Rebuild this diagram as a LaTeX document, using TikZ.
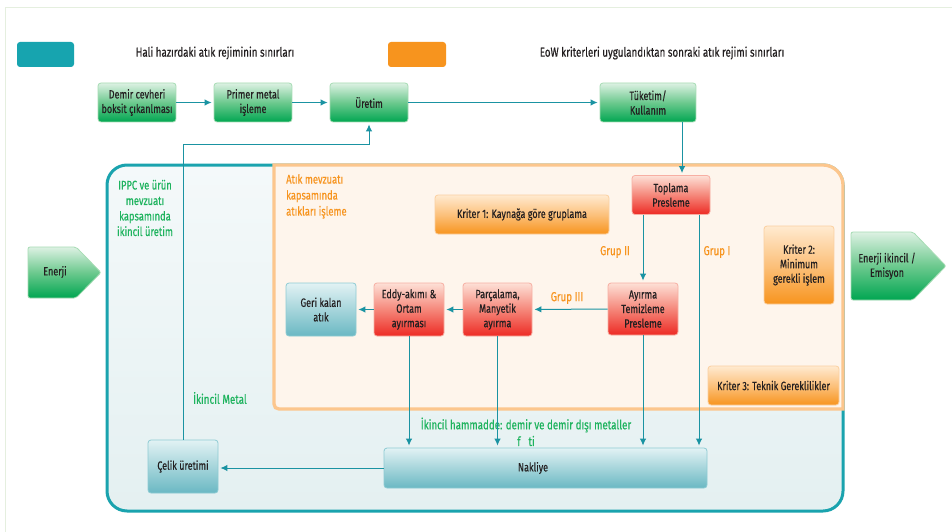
\documentclass[tikz,border=0pt]{standalone}
\usepackage{fontspec}
\setmainfont{Fira Sans}[FakeStretch=0.75,FakeBold=0.4]
\usetikzlibrary{arrows.meta}
\definecolor{legteal}{HTML}{17A4AF}
\definecolor{legorange}{HTML}{F7941E}
\definecolor{lnteal}{HTML}{1A93A2}
\definecolor{regteal}{HTML}{1AA3AE}
\definecolor{regorange}{HTML}{FCC68D}
\definecolor{txtgreen}{HTML}{1EB35E}
\definecolor{txtorange}{HTML}{F7941E}
\definecolor{txtdark}{HTML}{231F20}
\definecolor{gtop}{HTML}{DDF1E3}
\definecolor{gmid}{HTML}{6CC98E}
\definecolor{gbot}{HTML}{00A651}
\definecolor{gbrd}{HTML}{A6DCB4}
\definecolor{rtop}{HTML}{FDE0D6}
\definecolor{rmid}{HTML}{F5877A}
\definecolor{rbot}{HTML}{ED2A24}
\definecolor{rbrd}{HTML}{F7AFA3}
\definecolor{otop}{HTML}{FFEAD0}
\definecolor{omid}{HTML}{FCC17C}
\definecolor{obot}{HTML}{F7941E}
\definecolor{obrd}{HTML}{FBD0A0}
\definecolor{ttop}{HTML}{E2F2F4}
\definecolor{tmid}{HTML}{A6D5DB}
\definecolor{tbot}{HTML}{6AB8C3}
\definecolor{tbrd}{HTML}{8ECBD3}
\definecolor{regtop}{HTML}{F4F9FA}
\definecolor{regbot}{HTML}{E4F0F1}
\definecolor{orfill}{HTML}{FEF5EC}
\definecolor{frame}{HTML}{E5EFDF}
\newcommand{\boxfont}{\fontsize{12}{14.5}\selectfont}
\newcommand{\legfont}{\fontsize{13}{15}\selectfont}
\begin{document}
\begin{tikzpicture}[x=1pt,y=-1pt,
  box/.style={rounded corners=3pt, inner sep=0pt, align=center, font=\boxfont, text=txtdark, line width=0.8pt},
  greenbox/.style={box, draw=gbrd, top color=gtop, bottom color=gbot, middle color=gmid},
  redbox/.style={box, draw=rbrd, top color=rtop, bottom color=rbot, middle color=rmid},
  orangebox/.style={box, draw=obrd, top color=otop, bottom color=obot, middle color=omid},
  tealbox/.style={box, draw=tbrd, top color=ttop, bottom color=tbot, middle color=tmid},
  arr/.style={draw=lnteal, line width=1pt, -{Latex[length=7pt,width=6.5pt]}, shorten >=2pt},
  lbl/.style={font=\legfont, inner sep=0pt},
  glbl/.style={lbl, text=txtgreen},
  olbl/.style={lbl, text=txtorange},
  dlbl/.style={lbl, text=txtdark}
]
\useasboundingbox (0,0) rectangle (952,532);
\fill[white] (0,0) rectangle (952,532);
% outer frame
\draw[frame, line width=1.5pt] (952,7.5) -- (5.5,7.5) -- (5.5,532);
% legend
\node[fill=legteal, rounded corners=3pt, minimum width=57, minimum height=25, inner sep=0pt] (legA) at (45.5,54.5) {};
\node[dlbl] (legAt) at (215,53) {Hali hazırdaki atık rejiminin sınırları};
\node[fill=legorange, rounded corners=3pt, minimum width=58, minimum height=25, inner sep=0pt] (legB) at (417,54.5) {};
\node[dlbl] (legBt) at (662,53) {EoW kriterleri uygulandıktan sonraki atık rejimi sınırları};
% regions
\draw[regteal, line width=3pt, top color=regtop, bottom color=regbot, rounded corners=20pt] (107,165) rectangle (843,511);
\draw[regorange, line width=3.3pt, fill=orfill] (274,165) -- (823,165) .. controls (834,165) and (843,174) .. (843,185) -- (843,409) -- (279,409) .. controls (276,409) and (274,407) .. (274,404) -- cycle;
% region texts
\node[glbl, align=center, font=\fontsize{12.5}{15.5}\selectfont] (ippc) at (145,208) {IPPC ve ürün\\mevzuatı\\kapsamında\\ikincil üretim};
\node[olbl, align=left, anchor=north west, font=\fontsize{12.5}{16}\selectfont] (atik) at (286,174) {Atık mevzuatı\\kapsamında\\atıkları işleme};
% top row
\node[greenbox, minimum width=78, minimum height=39] (demir) at (137,102.5) {Demir cevheri\\boksit çıkanlması};
\node[greenbox, minimum width=78, minimum height=39] (primer) at (253,102.5) {Primer metal\\işleme};
\node[greenbox, minimum width=78, minimum height=39] (uretim) at (369,102.5) {Üretim};
\node[greenbox, minimum width=96, minimum height=39] (tuketim) at (648,102.5) {Tüketim/\\Kullanım};
% energy arrows
\path[greenbox, rounded corners=2pt] (28,247) -- (76,247) -- (101,272.5) -- (76,298) -- (28,298) -- cycle;
\node[dlbl, font=\boxfont] (enerji) at (55,272) {Enerji};
\path[greenbox, rounded corners=2pt] (851,232) -- (913,232) -- (946,266) -- (913,300) -- (851,300) -- cycle;
\node[dlbl, align=center, font=\boxfont] (enerji2) at (887,266) {Enerji ikincil /\\Emisyon};
% process boxes
\node[redbox, minimum width=78, minimum height=39] (toplama) at (671,195) {Toplama\\Presleme};
\node[orangebox, minimum width=174, minimum height=39] (kriter1) at (522,214.5) {Kriter 1: Kaynağa göre gruplama};
\node[orangebox, minimum width=70, minimum height=78] (kriter2) at (799,265) {Kriter 2:\\Minimum\\gerekli işlem};
\node[redbox, minimum width=70, minimum height=52] (ayirma) at (643,309) {Ayırma\\Temizleme\\Presleme};
\node[redbox, minimum width=69, minimum height=53] (parca) at (497.5,309.5) {Parçalama,\\Manyetik\\ayırma};
\node[redbox, minimum width=70, minimum height=53] (eddy) at (409,309.5) {Eddy-akımı \&\\Ortam\\ayırması};
\node[tealbox, minimum width=70, minimum height=53] (geri) at (321,309.5) {Geri kalan\\atık};
\node[orangebox, minimum width=131, minimum height=39] (kriter3) at (773.5,385.5) {Kriter 3: Teknik Gereklilikler};
\node[tealbox, minimum width=323, minimum height=40] (nakliye) at (545.5,468) {};
\node[dlbl, font=\boxfont] (nakliyet) at (533,468) {Nakliye};
\node[tealbox, minimum width=70, minimum height=53] (celik) at (183,466.5) {Çelik üretimi};
% labels
\node[olbl] (g2) at (615,252) {Grup II};
\node[olbl] (g1) at (717,252) {Grup I};
\node[olbl] (g3) at (567,298) {Grup III};
\node[glbl] (ikm) at (220,398) {İkincil Metal};
\node[glbl] (ikh) at (526,425) {İkincil hammadde: demir ve demir dışı metaller};
\node[glbl] (fti) at (526,441) {f\hspace{8pt}ti};
% connectors
\coordinate (ret) at (183,144);
\draw[arr] (demir) -- (primer);
\draw[arr] (primer) -- (uretim);
\draw[arr] (uretim) -- (tuketim);
\draw[arr] ([xshift=34pt]tuketim.south) -- ([xshift=34pt]tuketim.south |- toplama.north);
\draw[arr] (celik.north) -- (ret) -| (uretim.south);
\draw[arr] (ayirma.north |- toplama.south) -- (ayirma.north);
\draw[arr] ([xshift=28pt]toplama.south) -- ([xshift=28pt]toplama.south |- nakliye.north);
\draw[arr] (ayirma) -- (parca);
\draw[arr] (parca) -- (eddy);
\draw[arr] (eddy) -- (geri);
\draw[arr] (eddy.south) -- (eddy.south |- nakliye.north);
\draw[arr] (parca.south) -- (parca.south |- nakliye.north);
\draw[arr] (ayirma.south) -- (ayirma.south |- nakliye.north);
\draw[arr] (nakliye.west) -- (celik.east |- nakliye.west);
\end{tikzpicture}
\end{document}
